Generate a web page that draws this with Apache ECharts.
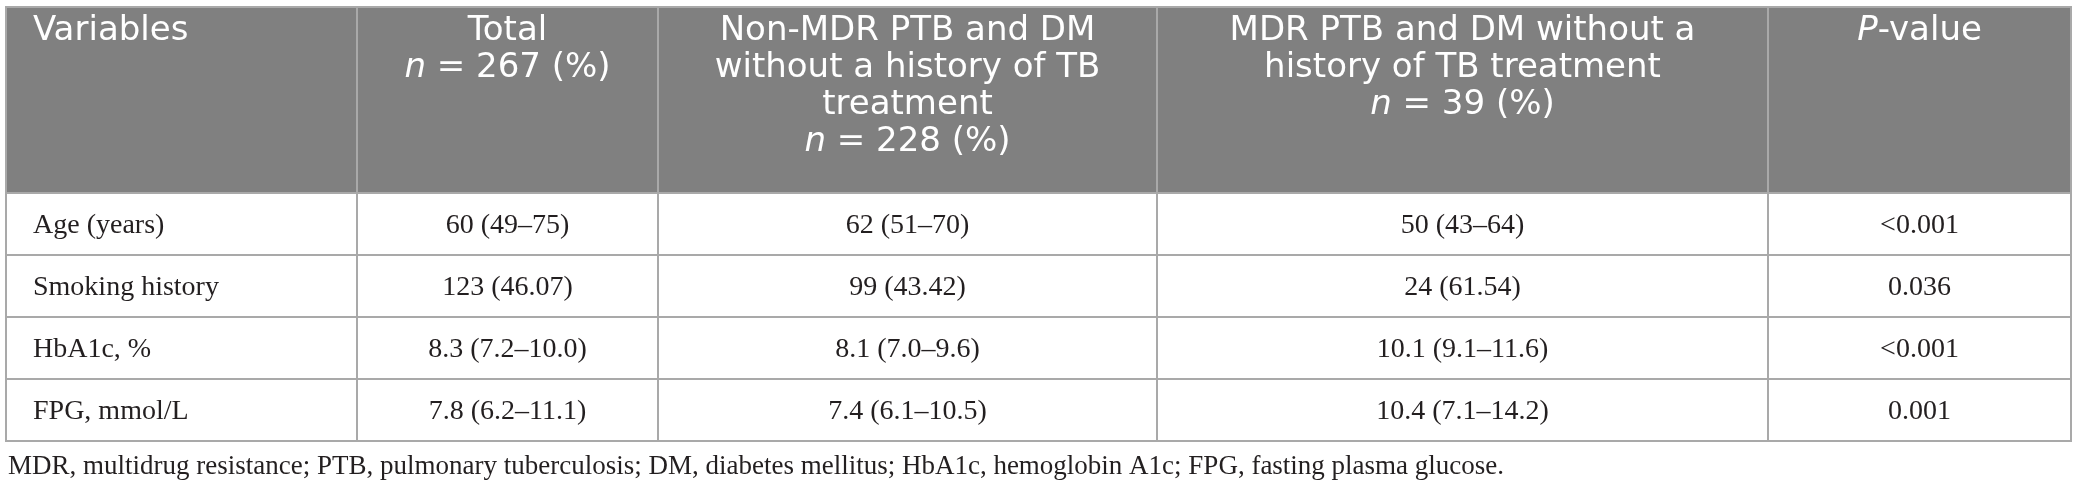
<!DOCTYPE html>
<html>
<head>
<meta charset="utf-8">
<script src="https://cdn.jsdelivr.net/npm/echarts@6/dist/echarts.min.js"></script>
<style>
  html, body { margin: 0; padding: 0; background: #fff; }
  #table { width: 2078px; height: 496px; }
</style>
</head>
<body>
<div id="table"></div>
<script>
// table content
const headers = [
  "Variables",
  "Total\n{i|n} = 267 (%)",
  "Non-MDR PTB and DM\nwithout a history of TB\ntreatment\n{i|n} = 228 (%)",
  "MDR PTB and DM without a\nhistory of TB treatment\n{i|n} = 39 (%)",
  "{i|P}-value"
];
const variables = ["Age (years)", "Smoking history", "HbA1c, %", "FPG, mmol/L"];
const totalCol = ["60 (49\u201375)", "123 (46.07)", "8.3 (7.2\u201310.0)", "7.8 (6.2\u201311.1)"];
const nonMdrCol = ["62 (51\u201370)", "99 (43.42)", "8.1 (7.0\u20139.6)", "7.4 (6.1\u201310.5)"];
const mdrCol = ["50 (43\u201364)", "24 (61.54)", "10.1 (9.1\u201311.6)", "10.4 (7.1\u201314.2)"];
const pValues = ["<0.001", "0.036", "<0.001", "0.001"];
const footnote = "MDR, multidrug resistance; PTB, pulmonary tuberculosis; DM, diabetes mellitus; HbA1c, hemoglobin A1c; FPG, fasting plasma glucose.";

// layout (pixel units on the hidden axes)
const colEdges = [0, 351, 652, 1151, 1762, 2065];
const rowEdges = [0, 186, 248, 310, 372, 434];

const bodyCols = [variables, totalCol, nonMdrCol, mdrCol, pValues];
const cells = [];
for (let c = 0; c < headers.length; c++) cells.push([c, 0]);
for (let r = 0; r < variables.length; r++) {
  for (let c = 0; c < bodyCols.length; c++) cells.push([c, r + 1]);
}

const headFont = "34px 'DejaVu Sans'";
const bodyFont = "28px 'Liberation Serif'";

function renderCell(params, api) {
  const c = api.value(0);
  const r = api.value(1);
  const p0 = api.coord([colEdges[c], rowEdges[r]]);
  const p1 = api.coord([colEdges[c + 1], rowEdges[r + 1]]);
  const isHead = r === 0;
  const left = c === 0;
  const text = isHead ? headers[c] : bodyCols[c][r - 1];
  return {
    type: "group",
    children: [
      {
        type: "rect",
        shape: { x: p0[0], y: p0[1], width: p1[0] - p0[0], height: p1[1] - p0[1] },
        style: { fill: isHead ? "#808080" : "#fff", stroke: "#a9a9a9", lineWidth: 2 }
      },
      {
        type: "text",
        style: {
          text: text,
          x: left ? p0[0] + 27 : (p0[0] + p1[0]) / 2,
          y: isHead ? p0[1] + 6 : (p0[1] + p1[1]) / 2 + 2,
          align: left ? "left" : "center",
          verticalAlign: isHead ? "top" : "middle",
          font: isHead ? headFont : bodyFont,
          fill: isHead ? "#fff" : "#231f20",
          lineHeight: 37,
          rich: {
            i: { fontStyle: "italic", fontFamily: "DejaVu Sans", fontSize: 34, lineHeight: 37, color: "#fff" }
          }
        }
      }
    ]
  };
}

const chart = echarts.init(document.getElementById("table"));
chart.setOption({
  animation: false,
  grid: { left: 6, top: 7, width: 2065, height: 434 },
  xAxis: { type: "value", min: 0, max: 2065, show: false },
  yAxis: { type: "value", min: 0, max: 434, inverse: true, show: false },
  graphic: [
    {
      type: "text",
      left: 8,
      top: 453,
      style: { text: footnote, font: "27px 'Liberation Serif'", fill: "#231f20" }
    }
  ],
  series: [
    {
      type: "custom",
      clip: false,
      renderItem: renderCell,
      encode: { x: 0, y: 1 },
      data: cells
    }
  ]
});
</script>
</body>
</html>
